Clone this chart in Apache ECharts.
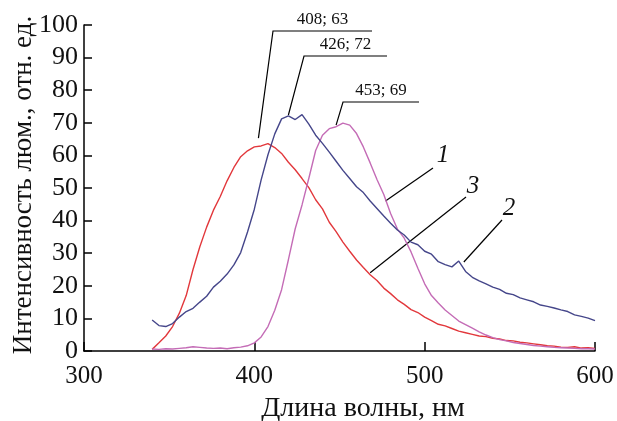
<!DOCTYPE html>
<html>
<head>
<meta charset="utf-8">
<script src="https://cdn.jsdelivr.net/npm/echarts@6/dist/echarts.min.js"></script>
<style>
  html, body { margin: 0; padding: 0; background: #fff; }
  #chart { width: 617px; height: 421px; }
</style>
</head>
<body>
<div id="chart"></div>
<script>
// длина волны, нм
var wavelength = [340, 344, 348, 352, 356, 360, 364, 368, 372, 376, 380, 384, 388, 392, 396, 400,
  404, 408, 412, 416, 420, 424, 428, 432, 436, 440, 444, 448, 452, 456, 460, 464, 468, 472, 476,
  480, 484, 488, 492, 496, 500, 504, 508, 512, 516, 520, 524, 528, 532, 536, 540, 544, 548, 552,
  556, 560, 564, 568, 572, 576, 580, 584, 588, 592, 596, 600];

// кривая 1 (розовая)
var curve1 = [0.6, 0.5, 0.7, 0.6, 0.8, 1.0, 1.3, 1.1, 0.9, 0.8, 0.9, 0.7, 1.0, 1.2, 1.6, 2.5,
  4.3, 7.5, 12.5, 18.8, 28, 37.5, 44.8, 53, 61.5, 66.2, 68.2, 68.8, 69.9, 69.3, 66.7, 62.6, 57.7,
  52.6, 48, 42.2, 37.4, 34.6, 30.4, 25.4, 20.6, 17, 14.7, 12.6, 10.9, 9.2, 8.1, 7, 5.9, 4.9, 4.1,
  3.5, 3.1, 2.6, 2.3, 2, 1.7, 1.5, 1.3, 1.1, 1, 0.9, 0.8, 0.7, 0.7, 0.6];

// кривая 2 (синяя)
var curve2 = [9.5, 7.8, 7.5, 8.4, 10.4, 12.1, 13.1, 15, 16.8, 19.6, 21.4, 23.6, 26.4, 30.2, 36.5, 43.5,
  52.5, 60.2, 66.6, 71.2, 72.1, 71, 72.5, 69.6, 66.2, 63.7, 61, 58.2, 55.4, 52.9, 50.4, 48.6, 46,
  43.7, 41.4, 39.2, 37.1, 35.6, 33.4, 32.6, 30.6, 29.7, 27.4, 26.5, 25.8, 27.6, 24.4, 22.6, 21.5,
  20.6, 19.6, 18.9, 17.7, 17.3, 16.3, 15.7, 15.1, 14.1, 13.7, 13.2, 12.6, 12.1, 11.1, 10.6, 10.1, 9.3];

// кривая 3 (красная)
var curve3 = [0.5, 2.5, 4.6, 7.5, 11.6, 17, 25, 32, 38, 43.2, 47.4, 52.2, 56.3, 59.6, 61.4, 62.6,
  62.9, 63.6, 62.4, 60.6, 57.9, 55.6, 52.9, 50.1, 46.4, 43.6, 39.5, 36.6, 33.4, 30.6, 27.9, 25.6,
  23.4, 21.6, 19.3, 17.6, 15.7, 14.3, 12.7, 11.8, 10.4, 9.3, 8.2, 7.7, 6.9, 6.1, 5.6, 5.1, 4.6,
  4.4, 3.9, 3.7, 3.2, 3.1, 2.7, 2.5, 2.2, 1.9, 1.6, 1.5, 1.2, 1.1, 1.3, 0.9, 1.0, 0.8];

// подписи максимумов и точки на кривых, куда ведут выноски
var peakLabels = ['408; 63', '426; 72', '453; 69'];
var peakAnchors = [[402.4, 65.3], [420, 72.4], [448, 69.3]];

var xTicks = [300, 400, 500, 600];
var yTicks = [0, 10, 20, 30, 40, 50, 60, 70, 80, 90, 100];

function pairs(xs, ys) {
  var out = [];
  for (var i = 0; i < xs.length; i++) {
    out.push([xs[i], ys[i]]);
  }
  return out;
}

var font = 'Liberation Serif';
var myChart = echarts.init(document.getElementById('chart'), null, { renderer: 'canvas' });

myChart.setOption({
  animation: false,
  grid: { left: 84, right: 22, top: 25, bottom: 70 },
  xAxis: {
    type: 'value',
    min: xTicks[0],
    max: xTicks[xTicks.length - 1],
    interval: 100,
    axisLine: { lineStyle: { color: '#000', width: 1.5 } },
    axisTick: { inside: true, length: 9, lineStyle: { color: '#000', width: 1.5 } },
    axisLabel: { fontFamily: font, fontSize: 25, color: '#111', margin: 13 },
    splitLine: { show: false }
  },
  yAxis: {
    type: 'value',
    min: yTicks[0],
    max: yTicks[yTicks.length - 1],
    interval: 10,
    axisLine: { show: true, lineStyle: { color: '#000', width: 1.5 } },
    axisTick: { show: true, inside: true, length: 8, lineStyle: { color: '#000', width: 1.5 } },
    axisLabel: { fontFamily: font, fontSize: 26, color: '#111', margin: 6 },
    splitLine: { show: false }
  },
  series: [
    {
      name: '1',
      type: 'line',
      showSymbol: false,
      data: pairs(wavelength, curve1),
      lineStyle: { color: '#c46cb6', width: 1.4 },
      z: 3
    },
    {
      name: '2',
      type: 'line',
      showSymbol: false,
      data: pairs(wavelength, curve2),
      lineStyle: { color: '#45468a', width: 1.4 },
      z: 4
    },
    {
      name: '3',
      type: 'line',
      showSymbol: false,
      data: pairs(wavelength, curve3),
      lineStyle: { color: '#e2383c', width: 1.4 },
      z: 2
    }
  ]
});

// выноски к максимумам (излом и полка в пикселях)
var elbows = [[273, 31, 372], [304, 56, 387], [343, 102, 419]];
var graphics = [];
for (var i = 0; i < peakLabels.length; i++) {
  var p = myChart.convertToPixel({ gridIndex: 0 }, peakAnchors[i]);
  var e = elbows[i];
  graphics.push({
    type: 'polyline',
    shape: { points: [p, [e[0], e[1]], [e[2], e[1]]] },
    style: { stroke: '#000', lineWidth: 1.2, fill: null }
  });
  graphics.push({
    type: 'text',
    x: (e[0] + e[2]) / 2,
    y: e[1] - 3,
    style: {
      text: peakLabels[i],
      font: '17px "' + font + '"',
      fill: '#111',
      textAlign: 'center',
      textVerticalAlign: 'bottom'
    }
  });
}

// номера кривых
var curveMarks = [
  { text: '1', at: [443, 155], from: [433, 168], to: [477, 46] },
  { text: '3', at: [473, 186], from: [466, 197], to: [468, 24] },
  { text: '2', at: [509, 208], from: [502, 220], to: [523, 27.3] }
];
curveMarks.forEach(function (m) {
  var q = myChart.convertToPixel({ gridIndex: 0 }, m.to);
  graphics.push({
    type: 'line',
    shape: { x1: m.from[0], y1: m.from[1], x2: q[0], y2: q[1] },
    style: { stroke: '#000', lineWidth: 1.2 }
  });
  graphics.push({
    type: 'text',
    x: m.at[0],
    y: m.at[1],
    style: {
      text: m.text,
      font: 'italic 25px "' + font + '"',
      fill: '#111',
      textAlign: 'center',
      textVerticalAlign: 'middle'
    }
  });
});

// подписи осей
graphics.push({
  type: 'text',
  x: 24,
  y: 185,
  rotation: Math.PI / 2,
  style: {
    text: 'Интенсивность люм., отн. ед.',
    font: '27px "' + font + '"',
    fill: '#111',
    textAlign: 'center',
    textVerticalAlign: 'middle'
  }
});
graphics.push({
  type: 'text',
  x: 363,
  y: 409,
  style: {
    text: 'Длина волны, нм',
    font: '28px "' + font + '"',
    fill: '#111',
    textAlign: 'center',
    textVerticalAlign: 'middle'
  }
});

myChart.setOption({ graphic: graphics });
</script>
</body>
</html>
